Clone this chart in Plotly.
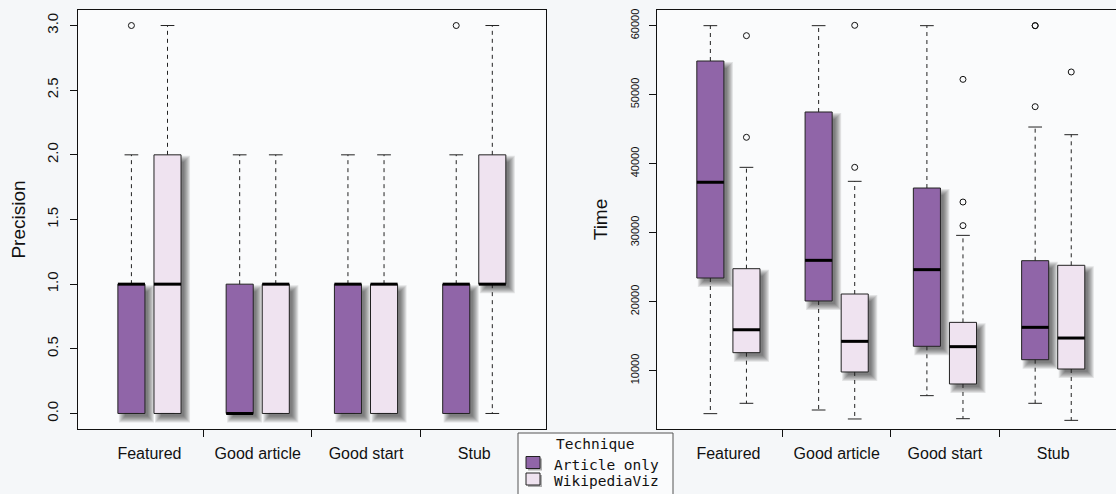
import plotly.graph_objects as go

# ---------------- data ----------------
categories = ["Featured", "Good article", "Good start", "Stub"]
techniques = ["Article only", "WikipediaViz"]
legend_title = "Technique"

# Precision (left panel)
prec_ao_q1 = [0, 0, 0, 0]
prec_ao_med = [1, 0, 1, 1]
prec_ao_q3 = [1, 1, 1, 1]
prec_ao_lo = [0, 0, 0, 0]
prec_ao_hi = [2, 2, 2, 2]
prec_ao_out = [[3], [], [], [3]]

prec_wv_q1 = [0, 0, 0, 1]
prec_wv_med = [1, 1, 1, 1]
prec_wv_q3 = [2, 1, 1, 2]
prec_wv_lo = [0, 0, 0, 0]
prec_wv_hi = [3, 2, 2, 3]
prec_wv_out = [[], [], [], []]

# Time (right panel)
time_ao_q1 = [23430, 20100, 13530, 11590]
time_ao_med = [37300, 25990, 24640, 16280]
time_ao_q3 = [54880, 47490, 36470, 25940]
time_ao_lo = [3770, 4300, 6380, 5270]
time_ao_hi = [60000, 60000, 60000, 45310]
time_ao_out = [[], [], [], [60000, 60000, 48260]]

time_wv_q1 = [12610, 9810, 8070, 10240]
time_wv_med = [15940, 14250, 13480, 14730]
time_wv_q3 = [24780, 21110, 17000, 25270]
time_wv_lo = [5270, 3000, 3040, 2800]
time_wv_hi = [39470, 37440, 29610, 44200]
time_wv_out = [[58550, 43820], [60050, 39470], [52220, 34440, 31020], [53290]]

prec_ticks = [0, 0.5, 1.0, 1.5, 2.0, 2.5, 3.0]
time_ticks = [10000, 20000, 30000, 40000, 50000, 60000]

# ---------------- style ----------------
COL_AO = "#9065A8"
COL_WV = "#EFE3F0"
BOXW = 0.75
STAPLE_HALF = 0.19
SANS = "Liberation Sans, Arial, sans-serif"
MONO = "DejaVu Sans Mono, monospace"

W, H = 1116, 494
ML, MR, MT, MB = 78, 0, 10, 65
PX_X = 36.09            # px per x unit (both panels)
PX_Y_PREC = 129.3       # px per precision unit
PX_Y_TIME = 0.0069      # px per time unit
SH_DX, SH_DY = 5, 5     # shadow offset px
SH_EXP = [-2, -1, 0, 1, 2, 3, 4]

fig = go.Figure()


def panel(xa, ya, series, px_y):
    # shadows first
    for tech, color, st in series:
        pos = st["pos"]
        for e in SH_EXP:
            fig.add_trace(go.Bar(
                x=pos,
                base=[q1 - (SH_DY + e) / px_y for q1 in st["q1"]],
                y=[q3 - q1 + 2 * e / px_y for q1, q3 in zip(st["q1"], st["q3"])],
                width=BOXW + 2 * e / PX_X,
                offset=-BOXW / 2 + (SH_DX - e) / PX_X,
                marker=dict(color="rgba(20,20,20,0.10)", line=dict(width=0)),
                xaxis=xa, yaxis=ya, showlegend=False, hoverinfo="skip"))
    # boxes
    for tech, color, st in series:
        fig.add_trace(go.Bar(
            x=st["pos"], base=st["q1"],
            y=[q3 - q1 for q1, q3 in zip(st["q1"], st["q3"])],
            width=BOXW, offset=-BOXW / 2,
            marker=dict(color=color, line=dict(color="#222", width=1)),
            name=tech, showlegend=False,
            xaxis=xa, yaxis=ya, hoverinfo="skip"))
    # whiskers, staples, medians, outliers
    wx, wy, sx, sy, mx, my, ox, oy = [], [], [], [], [], [], [], []
    for tech, color, st in series:
        for i, p in enumerate(st["pos"]):
            wx += [p, p, None, p, p, None]
            wy += [st["q3"][i], st["hi"][i], None, st["q1"][i], st["lo"][i], None]
            for v in (st["hi"][i], st["lo"][i]):
                sx += [p - STAPLE_HALF, p + STAPLE_HALF, None]
                sy += [v, v, None]
            mx += [p - BOXW / 2, p + BOXW / 2, None]
            my += [st["med"][i], st["med"][i], None]
            for o in st["out"][i]:
                ox.append(p)
                oy.append(o)
    fig.add_trace(go.Scatter(x=wx, y=wy, mode="lines", xaxis=xa, yaxis=ya,
                             line=dict(color="#222", width=1, dash="4px,4px"),
                             showlegend=False, hoverinfo="skip"))
    fig.add_trace(go.Scatter(x=sx, y=sy, mode="lines", xaxis=xa, yaxis=ya,
                             line=dict(color="#222", width=1),
                             showlegend=False, hoverinfo="skip"))
    fig.add_trace(go.Scatter(x=mx, y=my, mode="lines", xaxis=xa, yaxis=ya,
                             line=dict(color="#000", width=3),
                             showlegend=False, hoverinfo="skip"))
    fig.add_trace(go.Scatter(x=ox, y=oy, mode="markers", xaxis=xa, yaxis=ya,
                             marker=dict(symbol="circle-open", size=6, color="#111",
                                         line=dict(width=1)),
                             showlegend=False, hoverinfo="skip"))


def stats(q1, med, q3, lo, hi, out, k):
    return dict(pos=[3 * g + k for g in range(len(categories))],
                q1=q1, med=med, q3=q3, lo=lo, hi=hi, out=out)


panel("x", "y", [
    (techniques[0], COL_AO, stats(prec_ao_q1, prec_ao_med, prec_ao_q3, prec_ao_lo, prec_ao_hi, prec_ao_out, 1)),
    (techniques[1], COL_WV, stats(prec_wv_q1, prec_wv_med, prec_wv_q3, prec_wv_lo, prec_wv_hi, prec_wv_out, 2)),
], PX_Y_PREC)

panel("x2", "y2", [
    (techniques[0], COL_AO, stats(time_ao_q1, time_ao_med, time_ao_q3, time_ao_lo, time_ao_hi, time_ao_out, 1)),
    (techniques[1], COL_WV, stats(time_wv_q1, time_wv_med, time_wv_q3, time_wv_lo, time_wv_hi, time_wv_out, 2)),
], PX_Y_TIME)

cat_pos = [3 * g + 1.5 for g in range(len(categories))]
sep_pos = [3 * g + 3 for g in range(len(categories) - 1)]

xcommon = dict(
    tickmode="array", tickvals=cat_pos, ticktext=categories, ticks="",
    tickfont=dict(family=SANS, size=16, color="#111"), ticklabelstandoff=10,
    showline=True, mirror=True, linecolor="#111", linewidth=1.2,
    showgrid=False, zeroline=False,
    minor=dict(tickmode="array", tickvals=sep_pos, ticks="outside",
               ticklen=7, tickcolor="#111", tickwidth=1, showgrid=False),
)


# ---------------- legend (drawn in paper space) ----------------
def px2p(x, y):
    return (x - ML) / (W - ML - MR), (H - MB - y) / (H - MT - MB)


shapes, annotations = [], []
lx0, ly0 = px2p(518, 433)
lx1, ly1 = px2p(673, 505)
shapes.append(dict(type="rect", xref="paper", yref="paper", x0=lx0, x1=lx1, y0=ly1, y1=ly0,
                   line=dict(color="#555", width=1), fillcolor="#FAFBFC", layer="above"))
tx, ty = px2p(595.5, 444)
annotations.append(dict(text=legend_title, xref="paper", yref="paper", x=tx, y=ty,
                        xanchor="center", yanchor="middle", showarrow=False,
                        font=dict(family=MONO, size=14.5, color="#111")))
for (tech, col), (sy0, sy1, tyc) in zip([(techniques[0], COL_AO), (techniques[1], COL_WV)],
                                       [(456.5, 468.5, 465), (473, 485, 481.5)]):
    # swatch shadow
    a0, b0 = px2p(528, sy0 + 2)
    a1, b1 = px2p(542, sy1 + 2)
    shapes.append(dict(type="rect", xref="paper", yref="paper", x0=a0, x1=a1, y0=b1, y1=b0,
                       line=dict(width=0), fillcolor="rgba(30,30,30,0.35)", layer="above"))
    a0, b0 = px2p(526, sy0)
    a1, b1 = px2p(540, sy1)
    shapes.append(dict(type="rect", xref="paper", yref="paper", x0=a0, x1=a1, y0=b1, y1=b0,
                       line=dict(color="#222", width=1), fillcolor=col, layer="above"))
    ax, ay = px2p(552, tyc)
    annotations.append(dict(text=tech, xref="paper", yref="paper", x=ax, y=ay,
                            xanchor="left", yanchor="middle", showarrow=False,
                            font=dict(family=MONO, size=14.5, color="#111")))

fig.update_layout(
    width=W, height=H,
    margin=dict(l=ML, r=MR, t=MT, b=MB, autoexpand=False),
    paper_bgcolor="#F5F7F9", plot_bgcolor="#FAFBFC",
    barmode="overlay", showlegend=False,
    xaxis=dict(domain=[0, 0.4506], range=[-0.48, 12.48], anchor="y", **xcommon),
    xaxis2=dict(domain=[0.5581, 1], range=[-0.47, 12.24], anchor="y2", **xcommon),
    yaxis=dict(
        range=[-0.12, 3.12], tickmode="array", tickvals=prec_ticks,
        ticktext=[f"{v:.1f}" for v in prec_ticks], tickangle=-90,
        ticks="outside", ticklen=7, tickcolor="#111", ticklabelstandoff=6,
        tickfont=dict(family=SANS, size=15, color="#111"),
        showline=True, mirror=True, linecolor="#111", linewidth=1.2,
        showgrid=False, zeroline=False, anchor="x",
        title=dict(text="Precision", font=dict(family=SANS, size=19, color="#111"), standoff=13),
    ),
    yaxis2=dict(
        range=[1546, 62271], tickmode="array", tickvals=time_ticks,
        ticktext=[str(v) for v in time_ticks], tickangle=-90,
        ticks="outside", ticklen=7, tickcolor="#111", ticklabelstandoff=6,
        tickfont=dict(family=SANS, size=11, color="#111"),
        showline=True, mirror=False, linecolor="#111", linewidth=1.2,
        showgrid=False, zeroline=False, anchor="x2",
        title=dict(text="Time", font=dict(family=SANS, size=19, color="#111"), standoff=16),
    ),
    shapes=shapes,
    annotations=annotations,
)

fig.write_html(
    "out.html",
    config={"displayModeBar": False, "staticPlot": True},
    post_script="document.body.style.margin='0';document.body.style.overflow='hidden';"
                "document.body.style.background='#F5F7F9';",
)
